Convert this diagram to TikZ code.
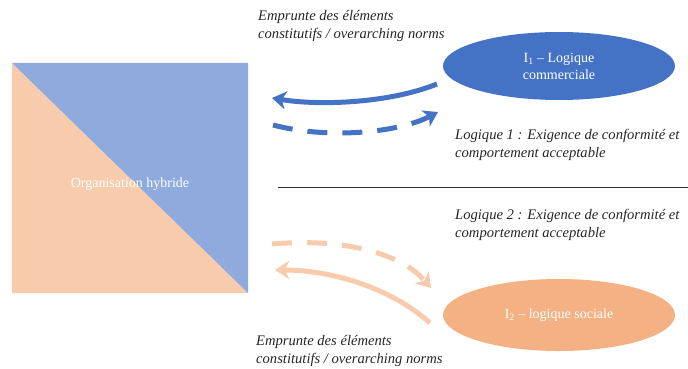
\documentclass[tikz,border=0pt]{standalone}
\usepackage{fontspec}
\setmainfont{Liberation Serif}
\usetikzlibrary{arrows.meta,shapes.geometric}
\definecolor{dblue}{HTML}{4472C4}
\definecolor{lblue}{HTML}{8FAADC}
\definecolor{lorange}{HTML}{F8CBAD}
\definecolor{morange}{HTML}{F4B183}
\begin{document}
\begin{tikzpicture}[x=1pt,y=-1pt,
  lbl/.style={font=\fontsize{14.6}{18}\selectfont\itshape, align=left, anchor=north west, inner sep=0pt, text=black!85},
  ell/.style={ellipse, inner sep=0pt, minimum width=232pt, text=white, font=\fontsize{14}{17}\selectfont, align=center},
  conn/.style={line width=5pt, -{Stealth[length=14pt,width=18pt,inset=4pt]}},
  dsh/.style={dash pattern=on 20pt off 15pt}]
\useasboundingbox (0,0) rectangle (688,369);
% square
\fill[lorange] (12,63) -- (12,293) -- (248,293) -- cycle;
\fill[lblue] (12,63) -- (248,63) -- (248,293) -- cycle;
\node[font=\fontsize{14}{17}\selectfont, text=white, inner sep=0pt] (org) at (130,184) {Organisation hybride};
% ellipses
\node[ell, fill=dblue, minimum height=68pt] (i1) at (559,66) {I\textsubscript{1} – Logique\\commerciale};
\node[ell, fill=morange, minimum height=72pt] (i2) at (559,315) {I\textsubscript{2} – logique sociale};
% coordinates
\coordinate (a1s) at (437,84);
\coordinate (a1e) at (272,98);
\coordinate (a2s) at (273,125);
\coordinate (a2e) at (438,112);
\coordinate (b1s) at (272,244);
\coordinate (b1e) at (431,288);
\coordinate (b2s) at (430,323);
\coordinate (b2e) at (275,270);
% arrows
\draw[conn, dblue] (a1s) .. controls (390,103) and (320,106) .. (a1e);
\draw[conn, dblue, dsh] (a2s) .. controls (330,140) and (400,132) .. (a2e);
\draw[conn, lorange, dsh] (b1s) .. controls (340,238) and (400,252) .. (b1e);
\draw[conn, lorange] (b2s) .. controls (390,287) and (330,270) .. (b2e);
% separator
\coordinate (sepL) at (278,187);
\coordinate (sepR) at (688,187);
\draw[line width=1pt, black!80] (sepL) -- (sepR);
% labels
\node[lbl] (t1) at (258,10) {Emprunte des éléments\\constitutifs / overarching norms};
\node[lbl] (t2) at (455,129) {Logique 1 : Exigence de conformité et\\comportement acceptable};
\node[lbl] (t3) at (455,209) {Logique 2 : Exigence de conformité et\\comportement acceptable};
\node[lbl] (t4) at (256,335) {Emprunte des éléments\\constitutifs / overarching norms};
\end{tikzpicture}
\end{document}
